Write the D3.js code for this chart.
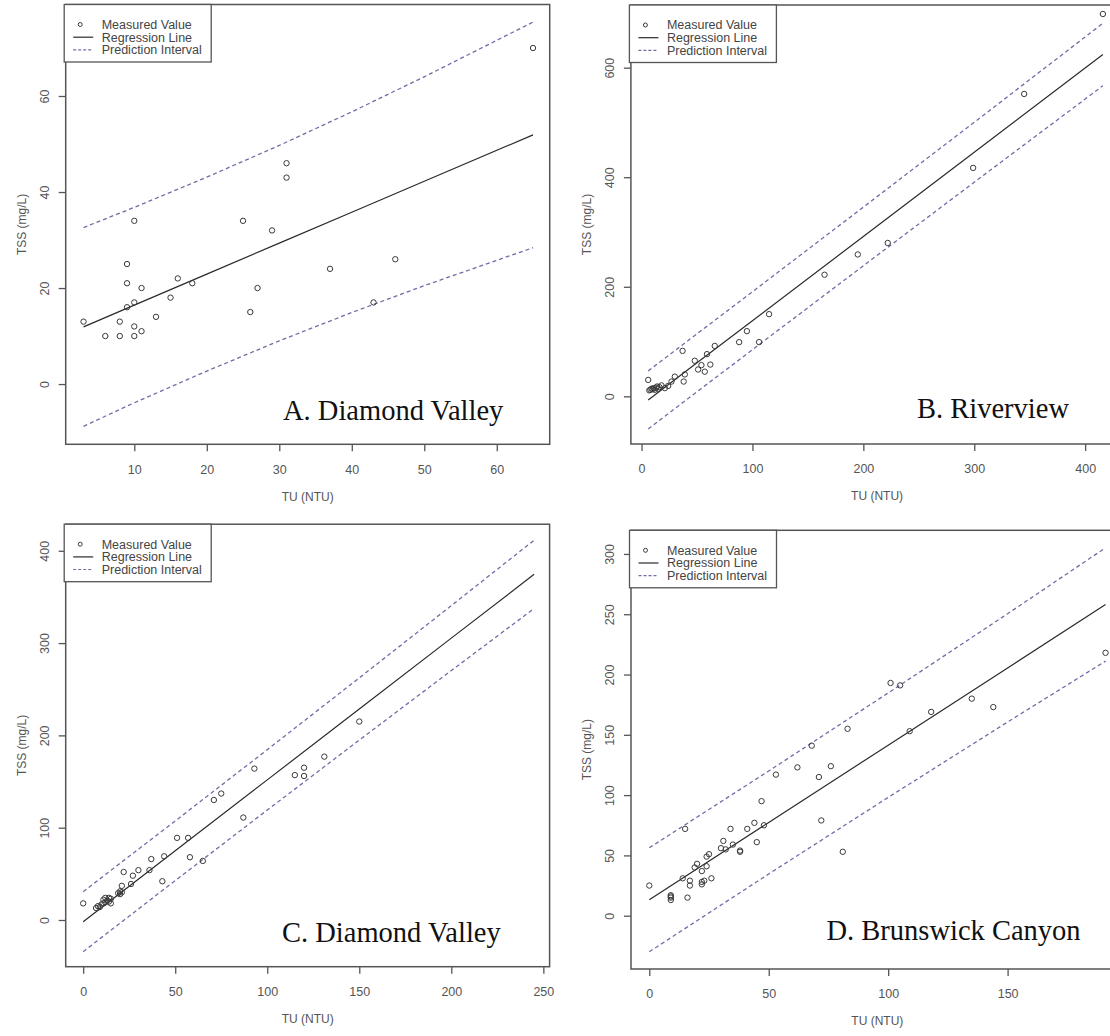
<!DOCTYPE html>
<html>
<head>
<meta charset="utf-8">
<script src="https://cdn.jsdelivr.net/npm/d3@7/dist/d3.min.js"></script>
<style>
  html, body { margin: 0; padding: 0; background: #fff; overflow: hidden; }
  svg { display: block; }
</style>
</head>
<body>
<script>
// ---------------- DATA ----------------
// Panel A: Diamond Valley
const A_tu  = [3, 6, 8, 8, 9, 9, 9, 10, 10, 10, 10, 11, 11, 13, 15, 16, 18, 25, 26, 27, 29, 31, 31, 37, 43, 46, 65];
const A_tss = [13, 10, 13, 10, 25, 21, 16, 34, 17, 12, 10, 20, 11, 14, 18, 22, 21, 34, 15, 20, 32, 46, 43, 24, 17, 26, 70];
const A_lineX = [3, 10, 20, 30, 40, 50, 65];
const A_fit   = [11.9, 16.45, 22.9, 29.35, 35.8, 42.25, 51.9];
const A_upper = [32.6, 36.8, 43.1, 49.7, 56.7, 64.0, 75.4];
const A_lower = [-8.8, -3.9, 2.7, 9.0, 14.9, 20.5, 28.4];
const A_xTicks = [10, 20, 30, 40, 50, 60];
const A_yTicks = [0, 20, 40, 60];

// Panel B: Riverview
const B_tu  = [6, 7, 8, 9, 10, 11, 12, 13, 14, 15, 16, 18, 21, 24, 27, 30, 37, 38, 39, 48, 51, 54, 57, 59, 62, 66, 88, 95, 106, 115, 165, 195, 222, 299, 345, 416];
const B_tss = [30, 11, 12, 14, 13, 15, 12, 16, 18, 14, 17, 20, 15, 19, 27, 36, 83, 27, 40, 65, 49, 57, 45, 77, 58, 92, 99, 119, 99, 150, 222, 259, 280, 417, 552, 698];
const B_lineX = [6, 50, 100, 200, 300, 416];
const B_fit   = [-6.5, 61.2, 138.1, 291.8, 445.6, 624.0];
const B_upper = [46.5, 114.1, 191.0, 345.3, 500.3, 681.0];
const B_lower = [-59.5, 8.3, 85.2, 238.4, 390.9, 567.0];
const B_xTicks = [0, 100, 200, 300, 400];
const B_yTicks = [0, 200, 400, 600];

// Panel C: Diamond Valley
const C_tu  = [0, 7, 8, 9, 10, 11, 11, 12, 12, 13, 14, 14, 15, 15, 19, 20, 20, 21, 21, 22, 26, 27, 30, 36, 37, 43, 44, 51, 57, 58, 65, 71, 75, 87, 93, 115, 120, 120, 131, 150];
const C_tss = [18, 13, 15, 14, 17, 18, 22, 19, 24, 21, 24, 20, 23, 18, 29, 31, 28, 37, 30, 52, 39, 48, 54, 54, 66, 42, 69, 89, 89, 68, 64, 130, 137, 111, 164, 157, 165, 156, 177, 215];
const C_lineX = [0, 50, 100, 150, 200, 245];
const C_fit   = [-1.8, 75.0, 151.8, 228.6, 305.4, 374.5];
const C_upper = [30.7, 107.3, 184.5, 262.3, 340.6, 411.5];
const C_lower = [-34.3, 42.7, 119.1, 194.9, 270.2, 337.5];
const C_xTicks = [0, 50, 100, 150, 200, 250];
const C_yTicks = [0, 100, 200, 300, 400];

// Panel D: Brunswick Canyon
const D_tu  = [0, 9, 9, 9, 9, 14, 15, 16, 17, 17, 19, 20, 22, 22, 22, 23, 24, 24, 25, 26, 30, 31, 32, 34, 35, 38, 38, 41, 44, 45, 47, 48, 53, 62, 68, 71, 72, 76, 81, 83, 101, 105, 109, 118, 135, 144, 191];
const D_tss = [25, 17, 15, 13, 16, 31, 72, 15, 29, 25, 40, 43, 37, 26, 28, 29, 41, 49, 51, 31, 56, 62, 55, 72, 59, 54, 53, 72, 77, 61, 95, 75, 117, 123, 141, 115, 79, 124, 53, 155, 193, 191, 153, 169, 180, 173, 218];
const D_lineX = [0, 50, 100, 150, 191];
const D_fit   = [13.2, 77.3, 141.4, 205.5, 258.1];
const D_upper = [56.3, 120.0, 184.7, 250.4, 305.1];
const D_lower = [-29.9, 34.6, 98.1, 160.6, 211.1];
const D_xTicks = [0, 50, 100, 150];
const D_yTicks = [0, 50, 100, 150, 200, 250, 300];

const legendLabels = ["Measured Value", "Regression Line", "Prediction Interval"];
const xTitle = "TU (NTU)";
const yTitle = "TSS (mg/L)";

// ---------------- LAYOUT ----------------
const panels = [
  { label: "A. Diamond Valley", tu: A_tu, tss: A_tss, lx: A_lineX, fit: A_fit, up: A_upper, lo: A_lower,
    xt: A_xTicks, yt: A_yTicks, xd: [0.54, 67.3], yd: [-12.55, 79.06],
    box: { l: 65.7, r: 549.7, t: 4.5, b: 444.3 }, lab: [283, 420] },
  { label: "B. Riverview", tu: B_tu, tss: B_tss, lx: B_lineX, fit: B_fit, up: B_upper, lo: B_lower,
    xt: B_xTicks, yt: B_yTicks, xd: [-9.6, 434.4], yd: [-87, 714.4],
    box: { l: 630.9, r: 1123.3, t: 5, b: 444 }, lab: [917, 418] },
  { label: "C. Diamond Valley", tu: C_tu, tss: C_tss, lx: C_lineX, fit: C_fit, up: C_upper, lo: C_lower,
    xt: C_xTicks, yt: C_yTicks, xd: [-9.5, 253.4], yd: [-50.6, 428.8],
    box: { l: 65.7, r: 549.6, t: 524.2, b: 966.7 }, lab: [282, 942] },
  { label: "D. Brunswick Canyon", tu: D_tu, tss: D_tss, lx: D_lineX, fit: D_fit, up: D_upper, lo: D_lower,
    xt: D_xTicks, yt: D_yTicks, xd: [-7.66, 198.6], yd: [-44.2, 319.6],
    box: { l: 631, r: 1123.7, t: 530.3, b: 969 }, lab: [826.5, 940] }
];

const SANS = "'Liberation Sans', Arial, Helvetica, sans-serif";
const SERIF = "'Liberation Serif', 'Times New Roman', Times, serif";
const AXIS_COL = "#555";
const TEXT_COL = "#555";
const PT_COL = "#3a3a3a";
const REG_COL = "#2a2a2a";
const PI_COL = "#6e6ea6";

const svg = d3.select("body").append("svg")
  .attr("width", 1110).attr("height", 1036)
  .attr("viewBox", "0 0 1110 1036");

panels.forEach(p => {
  const b = p.box;
  const x = d3.scaleLinear().domain(p.xd).range([b.l, b.r]);
  const y = d3.scaleLinear().domain(p.yd).range([b.b, b.t]);
  const g = svg.append("g");

  // x axis
  const xa = g.append("g").attr("transform", `translate(0,${b.b})`)
    .call(d3.axisBottom(x).tickValues(p.xt).tickSize(7).tickPadding(5).tickSizeOuter(0));
  xa.select(".domain").remove();
  xa.selectAll(".tick line").attr("stroke", AXIS_COL).attr("stroke-width", 1.3);
  xa.selectAll(".tick text").attr("fill", TEXT_COL).style("font-family", SANS)
    .style("font-size", "12.5px").attr("y", 25).attr("dy", "0.35em");

  // y axis
  const ya = g.append("g").attr("transform", `translate(${b.l},0)`)
    .call(d3.axisLeft(y).tickValues(p.yt).tickSize(7).tickSizeOuter(0));
  ya.select(".domain").remove();
  ya.selectAll(".tick line").attr("stroke", AXIS_COL).attr("stroke-width", 1.3);
  ya.selectAll(".tick text").attr("fill", TEXT_COL).style("font-family", SANS)
    .style("font-size", "12.5px")
    .attr("x", 0).attr("y", -21).attr("dy", "0.35em")
    .attr("text-anchor", "middle").attr("transform", "rotate(-90)");

  // titles
  g.append("text").attr("x", (b.l + b.r) / 2).attr("y", b.b + 52).attr("dy", "0.35em")
    .attr("text-anchor", "middle").attr("fill", TEXT_COL)
    .style("font-family", SANS).style("font-size", "12px").text(xTitle);
  g.append("text")
    .attr("transform", `translate(${b.l - 44},${(b.t + b.b) / 2}) rotate(-90)`)
    .attr("dy", "0.35em").attr("text-anchor", "middle").attr("fill", TEXT_COL)
    .style("font-family", SANS).style("font-size", "12px").text(yTitle);

  // lines
  const pts = arr => p.lx.map((v, i) => [v, arr[i]]);
  const line = d3.line().x(d => x(d[0])).y(d => y(d[1]));
  g.append("path").attr("d", line(pts(p.up))).attr("fill", "none")
    .attr("stroke", PI_COL).attr("stroke-width", 1.3).attr("stroke-dasharray", "4,3");
  g.append("path").attr("d", line(pts(p.lo))).attr("fill", "none")
    .attr("stroke", PI_COL).attr("stroke-width", 1.3).attr("stroke-dasharray", "4,3");
  g.append("path").attr("d", line(pts(p.fit))).attr("fill", "none")
    .attr("stroke", REG_COL).attr("stroke-width", 1.2);

  // points
  g.append("g").selectAll("circle").data(p.tu.map((v, i) => [v, p.tss[i]])).join("circle")
    .attr("cx", d => x(d[0])).attr("cy", d => y(d[1])).attr("r", 2.7)
    .attr("fill", "none").attr("stroke", PT_COL).attr("stroke-width", 1);

  // box
  g.append("rect").attr("x", b.l).attr("y", b.t).attr("width", b.r - b.l).attr("height", b.b - b.t)
    .attr("fill", "none").attr("stroke", AXIS_COL).attr("stroke-width", 1.5);

  // legend
  const lg = g.append("g").attr("transform", `translate(${b.l - 1.5},${b.t})`);
  lg.append("rect").attr("x", 0).attr("y", 0).attr("width", 147).attr("height", 57.5)
    .attr("fill", "#fff").attr("stroke", AXIS_COL).attr("stroke-width", 1.3);
  const rows = [20, 32.7, 45.3];
  lg.append("circle").attr("cx", 16).attr("cy", rows[0]).attr("r", 2)
    .attr("fill", "none").attr("stroke", PT_COL).attr("stroke-width", 1);
  lg.append("line").attr("x1", 9).attr("x2", 29).attr("y1", rows[1]).attr("y2", rows[1])
    .attr("stroke", REG_COL).attr("stroke-width", 1.2);
  lg.append("line").attr("x1", 9).attr("x2", 29).attr("y1", rows[2]).attr("y2", rows[2])
    .attr("stroke", PI_COL).attr("stroke-width", 1.2).attr("stroke-dasharray", "3,2");
  lg.selectAll("text.lt").data(legendLabels).join("text").attr("class", "lt")
    .attr("x", 37.5).attr("y", (d, i) => rows[i]).attr("dy", "0.35em")
    .attr("fill", "#444").style("font-family", SANS).style("font-size", "12.5px").text(d => d);

  // panel label
  g.append("text").attr("x", p.lab[0]).attr("y", p.lab[1])
    .attr("fill", "#111").style("font-family", SERIF).style("font-size", "28.5px").text(p.label);
});
</script>
</body>
</html>
